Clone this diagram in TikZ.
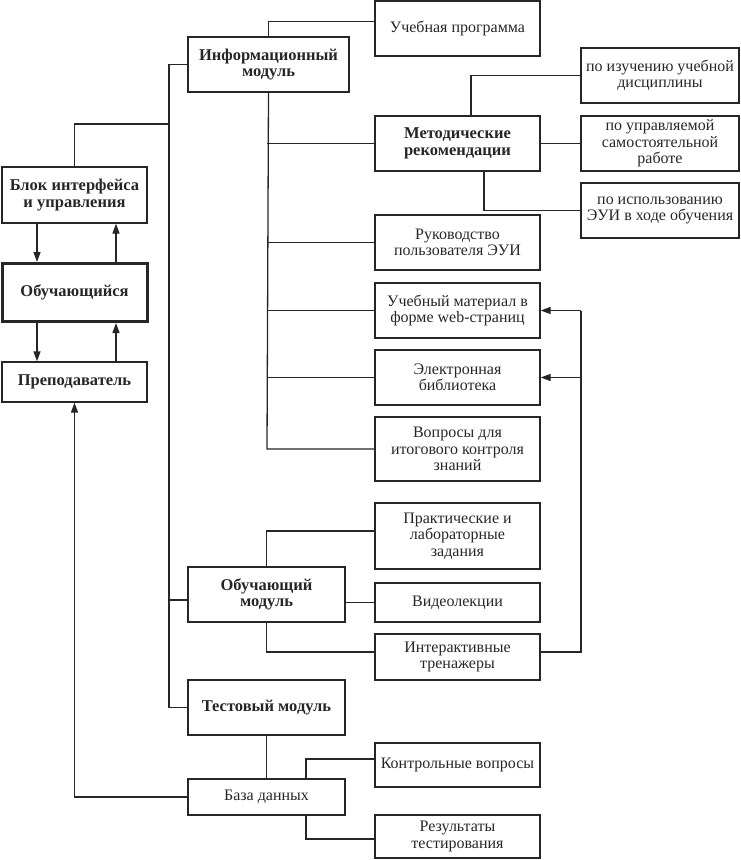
\documentclass[tikz,border=0pt]{standalone}
\usepackage{fontspec}
\setmainfont{Liberation Serif}
\usetikzlibrary{arrows.meta}
\definecolor{ink}{HTML}{262626}
\tikzset{
  box/.style={draw=ink, text=ink, line width=1.3pt, align=center, inner sep=1pt, font=\fontsize{16}{16.5}\selectfont},
  bbox/.style={box, font=\fontsize{16.5}{16.5}\selectfont\bfseries},
  ln/.style={draw=ink, line width=1.3pt},
  arr/.style={ln, -{Triangle[length=10pt,width=7pt]}}
}
\begin{document}
\begin{tikzpicture}[x=1pt,y=-1pt]
\useasboundingbox (0,0) rectangle (740,860);
% left column
\node[bbox, minimum width=145pt, minimum height=56pt] (blk) at (74.5,195) {Блок интерфейса\\и управления};
\node[bbox, line width=3pt, minimum width=145pt, minimum height=58pt] (obu) at (74.5,292.5) {Обучающийся};
\node[bbox, minimum width=145pt, minimum height=40pt] (prep) at (74.5,382) {Преподаватель};
% modules
\node[bbox, minimum width=161pt, minimum height=55pt] (inf) at (268.5,64.5) {Информационный\\модуль};
\node[bbox, minimum width=157pt, minimum height=55pt] (obm) at (266.5,594.5) {Обучающий\\модуль};
\node[bbox, minimum width=157pt, minimum height=55pt] (tst) at (266.5,707.5) {Тестовый модуль};
\node[box, minimum width=157pt, minimum height=36pt] (db) at (266.5,797) {База данных};
% info children
\node[box, minimum width=165pt, minimum height=55pt] (up) at (457.5,28.5) {Учебная программа};
\node[bbox, minimum width=165pt, minimum height=55pt] (met) at (457.5,143.5) {Методические\\рекомендации};
\node[box, minimum width=165pt, minimum height=55pt] (ruk) at (457.5,242.5) {Руководство\\пользователя ЭУИ};
\node[box, minimum width=165pt, minimum height=55pt] (uch) at (457.5,310.5) {Учебный материал в\\форме web-страниц};
\node[box, minimum width=165pt, minimum height=55pt] (el) at (457.5,377.5) {Электронная\\библиотека};
\node[box, minimum width=165pt, minimum height=64pt] (vop) at (457.5,449) {Вопросы для\\итогового контроля\\знаний};
% methodic children
\node[box, minimum width=158pt, minimum height=55pt] (izu) at (660,75.5) {по изучению учебной\\дисциплины};
\node[box, minimum width=158pt, minimum height=55pt] (upr) at (660,143.5) {по управляемой\\самостоятельной\\работе};
\node[box, minimum width=158pt, minimum height=55pt] (isp) at (660,210.5) {по использованию\\ЭУИ в ходе обучения};
% training children
\node[box, minimum width=165pt, minimum height=66pt] (pr) at (457.5,536) {Практические и\\лабораторные\\задания};
\node[box, minimum width=165pt, minimum height=39pt] (vid) at (457.5,602.5) {Видеолекции};
\node[box, minimum width=165pt, minimum height=46pt] (int) at (457.5,657) {Интерактивные\\тренажеры};
% test children
\node[box, minimum width=165pt, minimum height=44pt] (kv) at (457.5,765) {Контрольные вопросы};
\node[box, minimum width=165pt, minimum height=43pt] (res) at (457.5,836.5) {Результаты\\тестирования};
% coordinates
\coordinate (tk) at (169,124);
\coordinate (tb) at (169,707.5);
\coordinate (ib) at (267,449);
\coordinate (fb) at (581,310.5);
% connectors
\draw[ln] (blk.north) |- (tk);
\draw[ln] (inf.west) -| (tb) -- (tst.west);
\draw[ln] ([yshift=-5.5pt]obm.west -| tk) -- ([yshift=-5.5pt]obm.west);
\draw[ln] (inf.north) |- ([yshift=7pt]up.west);
\draw[ln] (inf.south) -- (ib) -- (vop.west);
\draw[ln] (met.west -| ib) -- (met.west);
\draw[ln] (ruk.west -| ib) -- (ruk.west);
\draw[ln] (uch.west -| ib) -- (uch.west);
\draw[ln] (el.west -| ib) -- (el.west);
\draw[ln] ([xshift=13.5pt]met.north) |- (izu.west);
\draw[ln] (met.east) -- (upr.west);
\draw[ln] ([xshift=26.5pt]met.south) |- (isp.west);
\draw[ln] (obm.north) |- ([yshift=5pt]pr.west);
\draw[ln] (vid.west -| obm.east) -- (vid.west);
\draw[ln] (obm.south) |- ([yshift=5pt]int.west);
\draw[ln] ([yshift=5pt]int.east) -| (fb);
\draw[arr] (fb) -- (uch.east);
\draw[arr] (fb |- el.east) -- (el.east);
\draw[ln] (tst.south) -- (db.north);
\draw[ln] ([xshift=39.5pt]db.north) |- ([yshift=6pt]kv.west);
\draw[ln] ([xshift=39.5pt]db.south) |- ([yshift=-2.5pt]res.west);
\draw[arr] (db.west) -| (prep.south);
\draw[arr] (blk.south -| 37,0) -- (obu.north -| 37,0);
\draw[arr] (obu.north -| 116,0) -- (blk.south -| 116,0);
\draw[arr] (obu.south -| 37,0) -- (prep.north -| 37,0);
\draw[arr] (prep.north -| 116,0) -- (obu.south -| 116,0);
\end{tikzpicture}
\end{document}
